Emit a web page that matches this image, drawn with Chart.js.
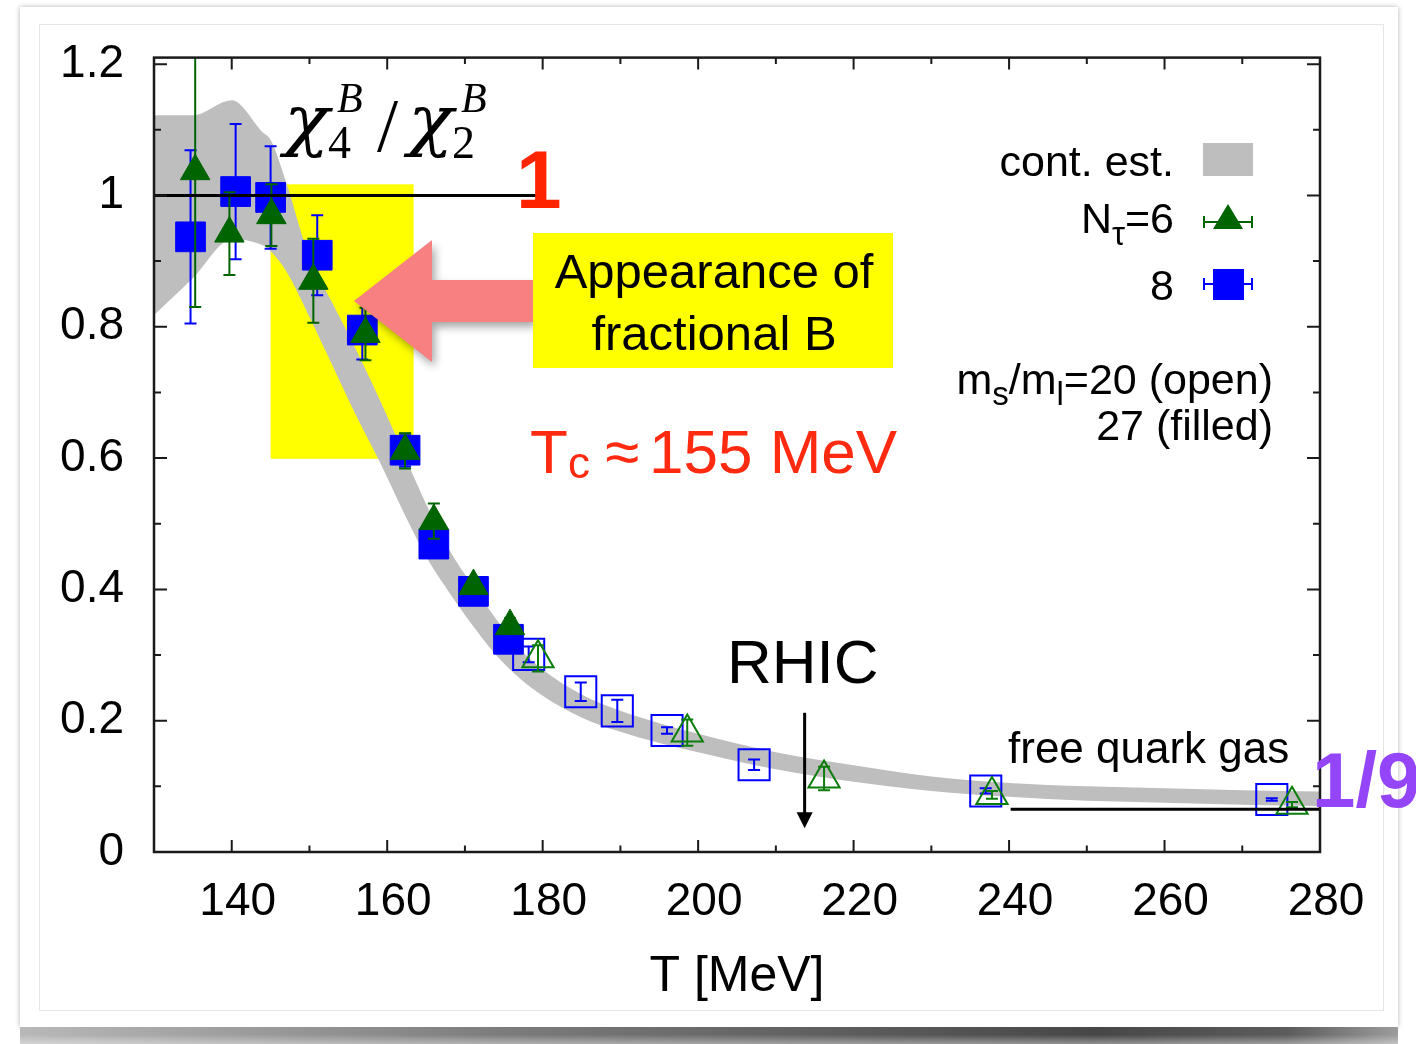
<!DOCTYPE html>
<html>
<head>
<meta charset="utf-8">
<title>chi4/chi2</title>
<script src="https://cdn.jsdelivr.net/npm/chart.js@4.4.1/dist/chart.umd.min.js"></script>
<style>
  html, body { margin: 0; padding: 0; background: #fff; }
  body { width: 1416px; height: 1044px; position: relative; overflow: hidden; }
  .card {
    position: absolute; left: 20px; top: 7px; width: 1378px; height: 1020px;
    background: #fff; box-shadow: 0 0 5px rgba(0, 0, 0, 0.3);
  }
  .frame {
    position: absolute; left: 39px; top: 24px; width: 1343px; height: 985px;
    border: 1px solid #e6e6e6;
  }
  .shade {
    position: absolute; left: 20px; top: 1027px; width: 1378px; height: 17px;
    background:
      linear-gradient(to bottom, rgba(255,255,255,0) 45%, rgba(255,255,255,0.4)),
      linear-gradient(to right, #b8b8b8, #7c7c7c 35%, #474747 78%, #5c5c5c 92%, #9c9c9c);
  }
  canvas { position: absolute; left: 0; top: 0; }
</style>
</head>
<body>
<div class="card"></div>
<div class="frame"></div>
<div class="shade"></div>
<canvas id="chart" width="1416" height="1044"></canvas>
<script>
(function () {
  const FONT = '"Liberation Sans", Arial, sans-serif';
  const SERIF = '"Liberation Serif", "DejaVu Serif", serif';
  const GREEK = '"DejaVu Serif", "Liberation Serif", serif';

  // continuum estimate (lower / upper edge of the band)
  const bandT = [130, 135, 140, 144, 145, 147, 150, 153, 156, 159, 162, 165, 168, 171, 174, 177, 180, 185, 190, 195, 200, 210, 220, 230, 240, 250, 260, 270, 280];
  const bandLo = [0.818, 0.874, 0.933, 0.924, 0.915, 0.885, 0.815, 0.74, 0.665, 0.595, 0.52, 0.45, 0.395, 0.345, 0.3, 0.265, 0.238, 0.205, 0.183, 0.166, 0.152, 0.126, 0.107, 0.093, 0.084, 0.078, 0.075, 0.072, 0.07];
  const bandHi = [1.122, 1.122, 1.145, 1.096, 1.085, 1.02, 0.905, 0.835, 0.765, 0.69, 0.61, 0.53, 0.46, 0.405, 0.355, 0.31, 0.278, 0.24, 0.215, 0.196, 0.18, 0.152, 0.132, 0.115, 0.105, 0.1, 0.097, 0.094, 0.092];

  // N_tau=8, m_s/m_l=27 (filled squares)
  const n8fT = [134.7, 140.5, 145.0, 151.0, 156.8, 162.3, 166.0, 171.1, 175.6];
  const n8fV = [0.937, 1.006, 0.997, 0.909, 0.795, 0.612, 0.469, 0.397, 0.324];
  const n8fErr = [0.132, 0.103, 0.078, 0.061, 0.045, 0.025, 0.02, 0.015, 0.015];

  // N_tau=6, m_s/m_l=27 (filled triangles)
  const n6fT = [135.3, 139.7, 145.1, 150.5, 157.2, 162.3, 166.0, 171.1, 175.8];
  const n6fV = [1.037, 0.942, 0.97, 0.87, 0.789, 0.611, 0.504, 0.405, 0.344];
  const n6fErr = [0.207, 0.063, 0.047, 0.064, 0.04, 0.027, 0.027, 0.012, 0.012];

  // N_tau=8, m_s/m_l=20 (open squares)
  const n8oT = [178.2, 184.9, 189.6, 196.0, 207.2, 237.0, 273.8];
  const n8oV = [0.301, 0.244, 0.215, 0.185, 0.133, 0.093, 0.08];
  const n8oErr = [0.012, 0.014, 0.017, 0.005, 0.008, 0.004, 0.002];

  // N_tau=6, m_s/m_l=20 (open triangles)
  const n6oT = [179.4, 198.6, 216.2, 237.8, 276.4];
  const n6oV = [0.295, 0.182, 0.112, 0.087, 0.072];
  const n6oErr = [0.02, 0.02, 0.018, 0.006, 0.004];

  // reference lines: unity and the free quark gas limit
  const unityT = [130, 179.3];
  const unityV = [1, 1];
  const sbT = [240.2, 280];
  const sbV = [0.065, 0.065];

  const rhicT = 213.7;

  const xTicks = [140, 160, 180, 200, 220, 240, 260, 280];
  const xMinor = [150, 170, 190, 210, 230, 250, 270];
  const yTicks = [0, 0.2, 0.4, 0.6, 0.8, 1, 1.2];
  const yTickLabels = ["0", "0.2", "0.4", "0.6", "0.8", "1", "1.2"];
  const yMinor = [0.1, 0.3, 0.5, 0.7, 0.9, 1.1];

  const BLUE = "#0000ff";
  const GREEN = "#006400";
  const GREEN_OPEN = "#0b7d0b";
  const GRAY = "#bebebe";

  const pts = (xs, ys) => xs.map((x, i) => ({ x, y: ys[i] }));

  function drawRuns(ctx, runs, xRight, base) {
    let total = 0;
    runs.forEach((r) => {
      ctx.font = r.font;
      r.w = ctx.measureText(r.text).width;
      total += r.w;
    });
    let xx = xRight - total;
    runs.forEach((r) => {
      ctx.font = r.font;
      ctx.fillText(r.text, xx, base + (r.dy || 0));
      xx += r.w;
    });
  }

  // slightly widened italic chi
  function drawChi(ctx, x, base) {
    ctx.save();
    ctx.translate(x, base);
    ctx.scale(1.1, 1);
    ctx.font = "italic 68px " + GREEK;
    ctx.fillText("\u03c7", 0, 0);
    ctx.restore();
  }

  // vertical error bars, drawn just under each dataset's markers
  const errorBars = {
    id: "errorBars",
    beforeDatasetDraw(chart, args) {
      const ds = chart.data.datasets[args.index];
      if (!ds.errors) return;
      const { ctx, chartArea, scales: { x, y } } = chart;
      ctx.save();
      ctx.beginPath();
      ctx.rect(chartArea.left, chartArea.top, chartArea.width, chartArea.height);
      ctx.clip();
      ctx.strokeStyle = ds.errColor;
      ctx.lineWidth = 2;
      ds.data.forEach((p, i) => {
        const e = ds.errors[i];
        const px = x.getPixelForValue(p.x);
        const top = y.getPixelForValue(p.y + e);
        const bot = y.getPixelForValue(p.y - e);
        ctx.beginPath();
        ctx.moveTo(px, top);
        ctx.lineTo(px, bot);
        ctx.moveTo(px - 6, top);
        ctx.lineTo(px + 6, top);
        ctx.moveTo(px - 6, bot);
        ctx.lineTo(px + 6, bot);
        ctx.stroke();
      });
      ctx.restore();
    },
  };

  const decorations = {
    id: "decorations",
    beforeDatasetsDraw(chart) {
      const { ctx, scales: { x, y } } = chart;
      // highlighted transition region
      const x0 = x.getPixelForValue(145.0);
      const x1 = x.getPixelForValue(163.4);
      const y0 = y.getPixelForValue(1.017);
      const y1 = y.getPixelForValue(0.599);
      ctx.save();
      ctx.fillStyle = "#ffff00";
      ctx.fillRect(x0, y0, x1 - x0, y1 - y0);
      ctx.restore();
    },
    afterDatasetsDraw(chart) {
      const { ctx, chartArea: a, scales: { x, y } } = chart;
      ctx.save();

      // frame and inward ticks on all four sides
      ctx.strokeStyle = "#1a1a1a";
      ctx.lineWidth = 2;
      ctx.beginPath();
      const tick = (v, len, horiz) => {
        if (horiz) {
          const px = x.getPixelForValue(v);
          ctx.moveTo(px, a.bottom); ctx.lineTo(px, a.bottom - len);
          ctx.moveTo(px, a.top); ctx.lineTo(px, a.top + len);
        } else {
          const py = y.getPixelForValue(v);
          ctx.moveTo(a.left, py); ctx.lineTo(a.left + len, py);
          ctx.moveTo(a.right, py); ctx.lineTo(a.right - len, py);
        }
      };
      xTicks.forEach((v) => tick(v, 12, true));
      xMinor.forEach((v) => tick(v, 6.5, true));
      yTicks.forEach((v) => tick(v, 13, false));
      yMinor.forEach((v) => tick(v, 7, false));
      ctx.stroke();
      ctx.lineWidth = 2.5;
      ctx.strokeRect(a.left, a.top, a.right - a.left, a.bottom - a.top);

      // observable label
      ctx.fillStyle = "#000";
      ctx.textBaseline = "alphabetic";
      ctx.textAlign = "left";
      drawChi(ctx, 284, 143);
      drawChi(ctx, 408, 143);
      ctx.font = "46px " + SERIF;
      ctx.fillText("4", 328, 158);
      ctx.fillText("2", 452, 158);
      ctx.font = "italic 42px " + SERIF;
      ctx.fillText("B", 337, 112);
      ctx.fillText("B", 461, 112);
      ctx.font = "76px " + SERIF;
      ctx.fillText("/", 377, 151);

      // big red "1" at the end of the unity line
      ctx.fillStyle = "#ff2400";
      ctx.font = "bold 82px " + FONT;
      ctx.fillText("1", 516, 208);

      // pointer arrow with soft shadow
      ctx.save();
      ctx.shadowColor = "rgba(0,0,0,0.35)";
      ctx.shadowBlur = 8;
      ctx.shadowOffsetX = 3;
      ctx.shadowOffsetY = 5;
      ctx.fillStyle = "#f88080";
      ctx.beginPath();
      ctx.moveTo(354, 301);
      ctx.lineTo(432, 240);
      ctx.lineTo(432, 280);
      ctx.lineTo(533, 280);
      ctx.lineTo(533, 322);
      ctx.lineTo(432, 322);
      ctx.lineTo(432, 362);
      ctx.closePath();
      ctx.fill();
      ctx.restore();

      // callout box
      ctx.fillStyle = "#ffff00";
      ctx.fillRect(533, 233, 360, 135);
      ctx.fillStyle = "#000";
      ctx.textAlign = "center";
      ctx.font = "49px " + FONT;
      ctx.fillText("Appearance of", 714, 288);
      ctx.fillText("fractional B", 714, 350);

      // T_c label
      ctx.textAlign = "left";
      ctx.fillStyle = "#ff2a10";
      ctx.font = "62px " + FONT;
      ctx.fillText("T", 530, 473);
      ctx.font = "44px " + FONT;
      ctx.fillText("c", 568, 478);
      ctx.font = "62px " + FONT;
      ctx.fillText("\u2248", 605, 473);
      ctx.fillText("155 MeV", 649, 473);

      // RHIC marker
      ctx.fillStyle = "#000";
      ctx.font = "62px " + FONT;
      ctx.fillText("RHIC", 727, 683);
      const rx = x.getPixelForValue(rhicT);
      const rTop = y.getPixelForValue(0.212);
      const rTip = y.getPixelForValue(0.036);
      ctx.strokeStyle = "#000";
      ctx.lineWidth = 3;
      ctx.beginPath();
      ctx.moveTo(rx, rTop);
      ctx.lineTo(rx, rTip - 12);
      ctx.stroke();
      ctx.beginPath();
      ctx.moveTo(rx - 8, rTip - 16);
      ctx.lineTo(rx + 8, rTip - 16);
      ctx.lineTo(rx, rTip);
      ctx.closePath();
      ctx.fill();

      ctx.font = "44px " + FONT;
      ctx.fillText("free quark gas", 1008, 763);

      ctx.fillStyle = "#9545f8";
      ctx.font = "bold 78px " + FONT;
      ctx.fillText("1/9", 1312, 807);

      // legend
      ctx.fillStyle = "#000";
      const lf = "43px " + FONT;
      const sf = "33px " + FONT;
      drawRuns(ctx, [{ text: "cont. est.", font: lf }], 1174, 176);
      drawRuns(ctx, [
        { text: "N", font: lf },
        { text: "\u03c4", font: sf, dy: 12 },
        { text: "=6", font: lf },
      ], 1174, 233);
      drawRuns(ctx, [{ text: "8", font: lf }], 1174, 300);
      drawRuns(ctx, [
        { text: "m", font: lf },
        { text: "s", font: sf, dy: 11 },
        { text: "/m", font: lf },
        { text: "l", font: sf, dy: 11 },
        { text: "=20 (open)", font: lf },
      ], 1273, 394);
      drawRuns(ctx, [{ text: "27 (filled)", font: lf }], 1273, 440);

      ctx.fillStyle = GRAY;
      ctx.fillRect(1203, 143, 50, 33);

      const legendBar = (cy, color) => {
        ctx.strokeStyle = color;
        ctx.lineWidth = 2;
        ctx.beginPath();
        ctx.moveTo(1204, cy); ctx.lineTo(1252, cy);
        ctx.moveTo(1204, cy - 6); ctx.lineTo(1204, cy + 6);
        ctx.moveTo(1252, cy - 6); ctx.lineTo(1252, cy + 6);
        ctx.stroke();
      };
      legendBar(222, GREEN);
      ctx.fillStyle = GREEN;
      ctx.beginPath();
      ctx.moveTo(1228, 204);
      ctx.lineTo(1243, 229);
      ctx.lineTo(1213, 229);
      ctx.closePath();
      ctx.fill();
      legendBar(284, BLUE);
      ctx.fillStyle = BLUE;
      ctx.fillRect(1213, 269, 31, 31);

      ctx.restore();
    },
  };

  Chart.defaults.font.family = FONT;
  Chart.defaults.color = "#000";

  new Chart(document.getElementById("chart"), {
    type: "line",
    data: {
      datasets: [
        {
          label: "band-lo",
          data: pts(bandT, bandLo),
          borderWidth: 0,
          pointRadius: 0,
          fill: false,
          cubicInterpolationMode: "monotone",
          order: 10,
        },
        {
          label: "cont. est.",
          data: pts(bandT, bandHi),
          borderWidth: 0,
          pointRadius: 0,
          fill: "-1",
          backgroundColor: GRAY,
          cubicInterpolationMode: "monotone",
          order: 9,
        },
        {
          label: "Ntau=8, 20",
          data: pts(n8oT, n8oV),
          showLine: false,
          pointStyle: "rect",
          pointRadius: 22,
          pointBorderWidth: 2,
          pointBorderColor: BLUE,
          pointBackgroundColor: "rgba(0,0,0,0)",
          errors: n8oErr,
          errColor: BLUE,
          order: 6,
        },
        {
          label: "Ntau=6, 20",
          data: pts(n6oT, n6oV),
          showLine: false,
          pointStyle: "triangle",
          pointRadius: 18,
          pointBorderWidth: 2,
          pointBorderColor: GREEN_OPEN,
          pointBackgroundColor: "rgba(0,0,0,0)",
          errors: n6oErr,
          errColor: GREEN_OPEN,
          order: 5,
        },
        {
          label: "Ntau=8, 27",
          data: pts(n8fT, n8fV),
          showLine: false,
          pointStyle: "rect",
          pointRadius: 21,
          pointBorderWidth: 1,
          pointBorderColor: BLUE,
          pointBackgroundColor: BLUE,
          errors: n8fErr,
          errColor: BLUE,
          order: 4,
        },
        {
          label: "Ntau=6, 27",
          data: pts(n6fT, n6fV),
          showLine: false,
          pointStyle: "triangle",
          pointRadius: 17,
          pointBorderWidth: 1,
          pointBorderColor: GREEN,
          pointBackgroundColor: GREEN,
          errors: n6fErr,
          errColor: GREEN,
          order: 3,
        },
        {
          label: "unity",
          data: pts(unityT, unityV),
          borderColor: "#000",
          borderWidth: 3,
          pointRadius: 0,
          fill: false,
          order: 1,
        },
        {
          label: "free quark gas",
          data: pts(sbT, sbV),
          borderColor: "#000",
          borderWidth: 3,
          pointRadius: 0,
          fill: false,
          order: 1,
        },
      ],
    },
    options: {
      responsive: false,
      animation: false,
      events: [],
      devicePixelRatio: 1,
      layout: { padding: { left: 0, right: 96, top: 55, bottom: 0 } },
      plugins: {
        legend: { display: false },
        tooltip: { enabled: false },
      },
      scales: {
        x: {
          type: "linear",
          min: 130,
          max: 280,
          grid: { display: false, drawTicks: false },
          border: { display: false },
          afterBuildTicks: (s) => { s.ticks = xTicks.map((v) => ({ value: v })); },
          afterFit: (s) => { s.height = 192; },
          ticks: {
            font: { size: 46 },
            color: "#000",
            padding: 23,
            labelOffset: 6,
            maxRotation: 0,
            callback: (v) => String(v),
          },
          title: {
            display: true,
            text: "T [MeV]",
            font: { size: 50 },
            color: "#000",
            padding: { top: 0, bottom: 37 },
          },
        },
        y: {
          type: "linear",
          min: 0,
          max: 1.21,
          grid: { display: false, drawTicks: false },
          border: { display: false },
          afterBuildTicks: (s) => { s.ticks = yTicks.map((v) => ({ value: v })); },
          afterFit: (s) => { s.width = 154; },
          ticks: {
            font: { size: 46 },
            color: "#000",
            padding: 30,
            callback: (v, i) => yTickLabels[i],
          },
        },
      },
    },
    plugins: [errorBars, decorations],
  });
})();
</script>
</body>
</html>
